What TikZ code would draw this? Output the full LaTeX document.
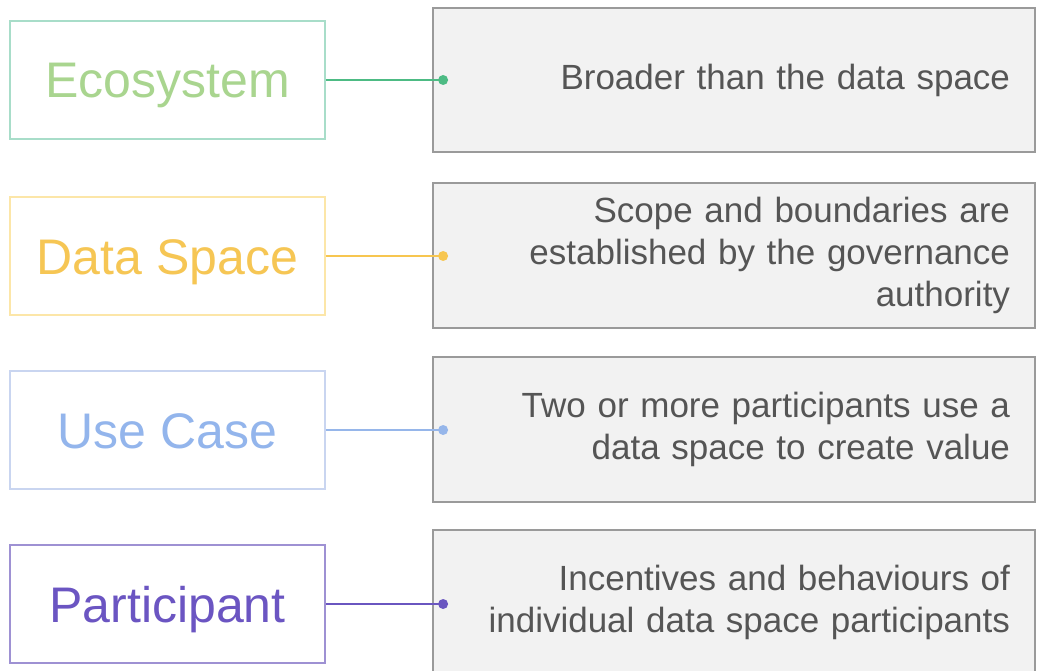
\documentclass[tikz,border=0pt]{standalone}
\usepackage{fontspec}
\setmainfont{Liberation Sans}
\usetikzlibrary{positioning}
\definecolor{ecoedge}{HTML}{A8DDC9}
\definecolor{ecotext}{HTML}{A9D58F}
\definecolor{ecoline}{HTML}{4DBB84}
\definecolor{dsedge}{HTML}{FCE6A8}
\definecolor{dstext}{HTML}{F6C654}
\definecolor{dsline}{HTML}{F7C650}
\definecolor{ucedge}{HTML}{C9D5F0}
\definecolor{uctext}{HTML}{93B5EC}
\definecolor{ucline}{HTML}{96B6EA}
\definecolor{ptedge}{HTML}{9E91D3}
\definecolor{pttext}{HTML}{6B55C2}
\definecolor{ptline}{HTML}{6A56C0}
\definecolor{infofill}{HTML}{F2F2F2}
\definecolor{infoedge}{HTML}{9A9A9A}
\definecolor{infotext}{HTML}{555555}
\tikzset{
  levelbox/.style={draw,line width=1.5pt,minimum width=315pt,minimum height=118pt,
    inner sep=0pt,text height=36pt,text depth=0pt,font=\fontsize{50}{60}\selectfont},
  infobox/.style={draw=infoedge,fill=infofill,line width=1.8pt,minimum width=602pt,
    text width=552pt,inner xsep=25pt,inner ysep=0pt,align=right,text=infotext,
    font=\fontsize{35}{42}\selectfont},
  link/.style={line width=2pt}
}
\begin{document}
\begin{tikzpicture}[x=1pt,y=-1pt]
        \useasboundingbox[fill=white] (0,0) rectangle (1039,671);
        % left column
        \node[levelbox,draw=ecoedge,text=ecotext] (eco) at (167.5,80) {Ecosystem};
        \node[levelbox,draw=dsedge,text=dstext] (ds) at (167.5,256) {Data Space};
        \node[levelbox,draw=ucedge,text=uctext] (uc) at (167.5,430) {Use Case};
        \node[levelbox,draw=ptedge,text=pttext] (pt) at (167.5,604) {Participant};
        % right column
        \node[infobox,minimum height=144pt] (ecoinfo) at (734,80) {Broader than the data space};
        \node[infobox,minimum height=145pt] (dsinfo) at (734,255.5) {Scope and boundaries are\\established by the governance\\authority};
        \node[infobox,minimum height=145pt] (ucinfo) at (734,429.5) {Two or more participants use a\\data space to create value};
        \node[infobox,minimum height=145pt] (ptinfo) at (734,602.5) {Incentives and behaviours of\\individual data space participants};
        % links
        \coordinate (ecodot) at ([xshift=11pt]ecoinfo.west|-eco.east);
        \coordinate (dsdot) at ([xshift=11pt]dsinfo.west|-ds.east);
        \coordinate (ucdot) at ([xshift=11pt]ucinfo.west|-uc.east);
        \coordinate (ptdot) at ([xshift=11pt]ptinfo.west|-pt.east);
        \draw[link,ecoline] (eco.east) -- (ecodot);
        \fill[ecoline] (ecodot) circle (5pt);
        \draw[link,dsline] (ds.east) -- (dsdot);
        \fill[dsline] (dsdot) circle (5pt);
        \draw[link,ucline] (uc.east) -- (ucdot);
        \fill[ucline] (ucdot) circle (5pt);
        \draw[link,ptline] (pt.east) -- (ptdot);
        \fill[ptline] (ptdot) circle (5pt);
\end{tikzpicture}
\end{document}
